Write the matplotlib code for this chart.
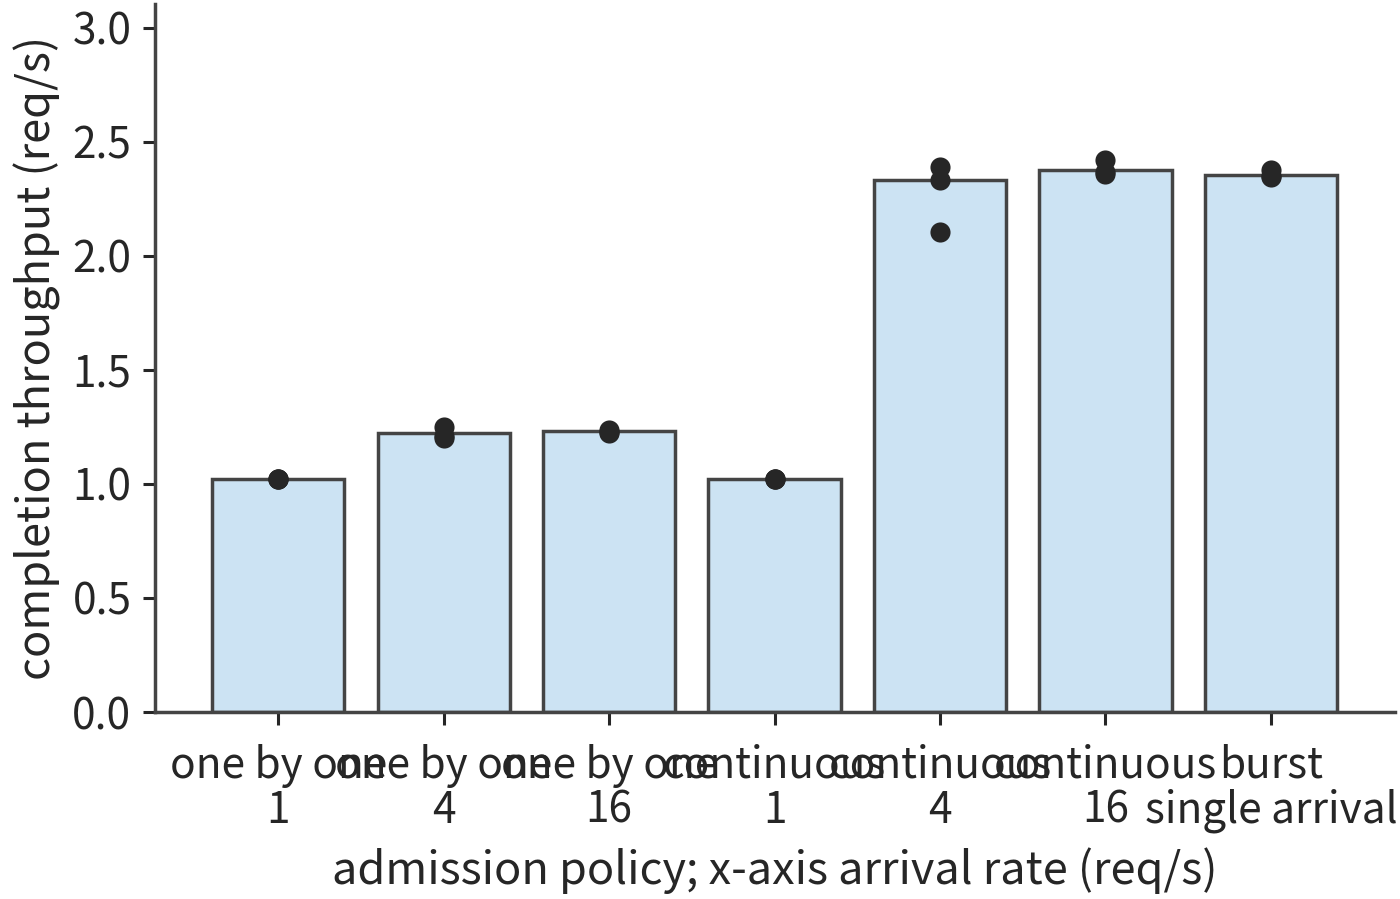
import numpy as np
import matplotlib
matplotlib.use("Agg")
import matplotlib.pyplot as plt

plt.rcParams['font.family'] = ['Noto Sans CJK SC', 'DejaVu Sans']

# categories (admission policy / arrival rate)
policies = ["one by one", "one by one", "one by one", "continuous", "continuous", "continuous", "burst"]
rates = ["1", "4", "16", "1", "4", "16", "single arrival"]

# bar heights and individual runs (req/s)
bar_heights = [1.022, 1.224, 1.232, 1.022, 2.333, 2.377, 2.355]
runs = [
    [1.02, 1.02, 1.02],
    [1.25, 1.21, 1.20],
    [1.225, 1.23, 1.235],
    [1.02, 1.02, 1.02],
    [2.39, 2.335, 2.105],
    [2.42, 2.37, 2.36],
    [2.375, 2.345, 2.35],
]

txt = '#262626'
edge = '#444444'

fig = plt.figure(figsize=(14, 8.99), dpi=100)
ax = fig.add_axes([155/1400, 1 - 712/899, (1395-155)/1400, (712-4)/899])

x = np.arange(len(bar_heights))
ax.bar(x, bar_heights, width=0.8, color='#cce3f3', edgecolor=edge, linewidth=2.5, zorder=2)
for i, vals in enumerate(runs):
    ax.scatter([i]*len(vals), vals, s=210, color=txt, zorder=3, linewidths=0)

ax.set_xlim(-0.745, 6.75)
ax.set_ylim(0, 3.105)
ax.set_yticks([0, 0.5, 1.0, 1.5, 2.0, 2.5, 3.0])
ax.set_yticklabels([f"{v:.1f}" for v in [0, 0.5, 1.0, 1.5, 2.0, 2.5, 3.0]])
ax.set_xticks(x)
ax.set_xticklabels([f"{p}\n{r}" for p, r in zip(policies, rates)], linespacing=1.03)

for s in ['top', 'right']:
    ax.spines[s].set_visible(False)
for s in ['left', 'bottom']:
    ax.spines[s].set_color(edge)
    ax.spines[s].set_linewidth(2.5)
ax.tick_params(axis='both', length=9, width=2.2, color=txt, labelsize=30.5, labelcolor=txt, pad=8)
ax.tick_params(axis='x', pad=14)

ax.set_xlabel("admission policy; x-axis arrival rate (req/s)", fontsize=32.5, color=txt, labelpad=10)
ax.set_ylabel("completion throughput (req/s)", fontsize=32.5, color=txt, labelpad=8)

fig.savefig("out.png", dpi=100)
